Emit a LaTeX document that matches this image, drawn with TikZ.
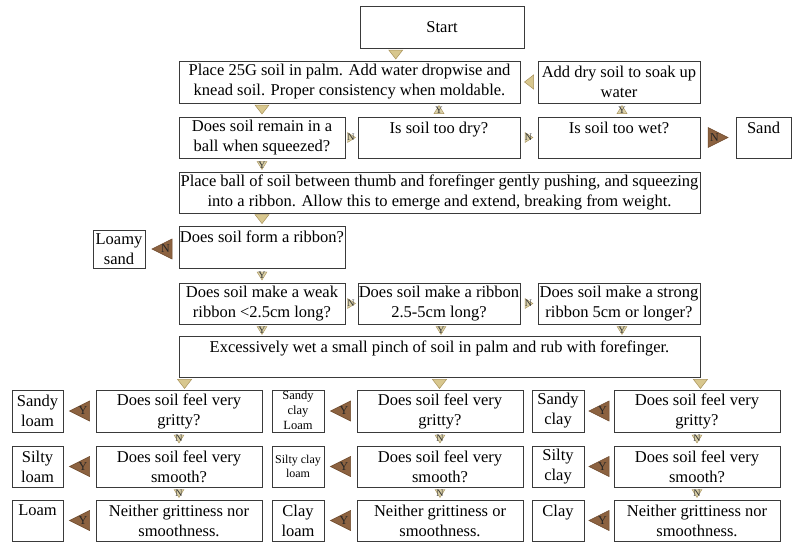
\documentclass[tikz,border=0pt]{standalone}
\usepackage{fontspec}
\setmainfont{Liberation Serif}
\usetikzlibrary{calc}
\definecolor{tanf}{HTML}{D8C78E}
\definecolor{tane}{HTML}{A8925A}
\definecolor{brownf}{HTML}{8C6240}
\definecolor{browne}{HTML}{6E4A2C}
\definecolor{boxline}{HTML}{3A3A3A}
\definecolor{mkf}{HTML}{D9CFA6}
\begin{document}
\begin{tikzpicture}[x=1pt,y=-1pt,
  box/.style={draw=boxline, line width=0.9pt, inner sep=0pt, align=center,
    font=\fontsize{16.5}{20}\selectfont},
  sbox/.style={box, font=\fontsize{12}{14.5}\selectfont},
  tand/.pic={\filldraw[fill=tanf,draw=tane,line width=0.5pt] (-7,-4.5)--(7,-4.5)--(0,4.5)--cycle;},
  tanl/.pic={\filldraw[fill=tanf,draw=tane,line width=0.5pt] (4.5,-7)--(4.5,7)--(-4.5,0)--cycle;},
  mkd/.pic={\filldraw[fill=mkf,draw=tane,line width=0.4pt] (-5,-4)--(5,-4)--(0,4)--cycle;
    \node[inner sep=0pt,font=\fontsize{10}{10}\selectfont,text=black!80] (-l) at (0,-0.5) {#1};},
  mku/.pic={\filldraw[fill=mkf,draw=tane,line width=0.4pt] (-5,4)--(5,4)--(0,-4)--cycle;
    \node[inner sep=0pt,font=\fontsize{10}{10}\selectfont,text=black!80] (-l) at (0,0.5) {#1};},
  mkr/.pic={\filldraw[fill=mkf,draw=tane,line width=0.4pt] (-4,-5)--(-4,5)--(4,0)--cycle;
    \node[inner sep=0pt,font=\fontsize{10}{10}\selectfont,text=black!80] (-l) at (-0.5,0) {#1};},
  brl/.pic={\filldraw[fill=brownf,draw=browne,line width=0.5pt] (10,-10)--(10,10)--(-10,0)--cycle;
    \node[inner sep=0pt,font=\fontsize{12}{12}\selectfont,text=black!85] (-l) at (3.5,0) {#1};},
  brr/.pic={\filldraw[fill=brownf,draw=browne,line width=0.5pt] (-10,-10)--(-10,10)--(10,0)--cycle;
    \node[inner sep=0pt,font=\fontsize{12}{12}\selectfont,text=black!85] (-l) at (-3.5,0) {#1};},
]
\useasboundingbox (0,0) rectangle (793,544);

% top part
\node[box, minimum width=164, minimum height=42] (start) at (442,27) {Start};
\node[box, minimum width=341, minimum height=42] (place) at (349.5,82)
  {Place 25G soil in palm. Add water dropwise and\\knead soil. Proper consistency when moldable.};
\node[box, minimum width=162, minimum height=42] (adddry) at (619,82)
  {Add dry soil to soak up\\water};
\node[box, minimum width=166, minimum height=41] (ball) at (262,137.5)
  {Does soil remain in a\\ball when squeezed?};
\node[box, minimum width=162, minimum height=41] (dry) at (439,137.5)
  {Is soil too dry?\\\mbox{}};
\node[box, minimum width=162, minimum height=41] (wet) at (619,137.5)
  {Is soil too wet?\\\mbox{}};
\node[box, minimum width=55, minimum height=41] (sand) at (763.5,137.5)
  {Sand\\\mbox{}};
\node[box, minimum width=521, minimum height=41] (thumb) at (439.5,192.5)
  {Place ball of soil between thumb and forefinger gently pushing, and squeezing\\into a ribbon. Allow this to emerge and extend, breaking from weight.};
\node[box, minimum width=166, minimum height=42] (ribbon) at (262,247)
  {Does soil form a ribbon?\\\mbox{}};
\node[box, minimum width=52, minimum height=38] (loamysand) at (119,249)
  {Loamy\\sand};
\node[box, minimum width=166, minimum height=41] (weak) at (262,303.5)
  {Does soil make a weak\\ribbon <2.5cm long?};
\node[box, minimum width=162, minimum height=41] (mid) at (439,303.5)
  {Does soil make a ribbon\\2.5-5cm long?};
\node[box, minimum width=162, minimum height=41] (strong) at (619,303.5)
  {Does soil make a strong\\ribbon 5cm or longer?};
\node[box, minimum width=521, minimum height=41] (wetb) at (439.5,356.5)
  {Excessively wet a small pinch of soil in palm and rub with forefinger.\\\mbox{}};

% bottom grid
\node[box, minimum width=51, minimum height=42] (r11) at (37.5,411) {Sandy\\loam};
\node[box, minimum width=51, minimum height=41] (r12) at (37.5,466.5) {Silty\\loam};
\node[box, minimum width=51, minimum height=41] (r13) at (37.5,520.5) {Loam\\\mbox{}};
\node[box, minimum width=166, minimum height=42] (q11) at (179,411) {Does soil feel very\\gritty?};
\node[box, minimum width=166, minimum height=41] (q12) at (179,466.5) {Does soil feel very\\smooth?};
\node[box, minimum width=166, minimum height=41] (q13) at (179,520.5) {Neither grittiness nor\\smoothness.};

\node[sbox, minimum width=52, minimum height=42] (r21) at (298,411)
  {\smash{\raisebox{-3pt}{\fontsize{12.5}{16}\selectfont\begin{tabular}{@{}c@{}}Sandy\\[-1pt]clay\\[-1pt]Loam\end{tabular}}}};
\node[sbox, minimum width=52, minimum height=41] (r22) at (298,466.5) {Silty clay\\loam};
\node[box, minimum width=52, minimum height=41] (r23) at (298,520.5) {Clay\\loam};
\node[box, minimum width=166, minimum height=42] (q21) at (440,411) {Does soil feel very\\gritty?};
\node[box, minimum width=166, minimum height=41] (q22) at (440,466.5) {Does soil feel very\\smooth?};
\node[box, minimum width=166, minimum height=41] (q23) at (440,520.5) {Neither grittiness or\\smoothness.};

\node[box, minimum width=52, minimum height=42] (r31) at (558,411) {Sandy\\clay};
\node[box, minimum width=52, minimum height=41] (r32) at (558,466.5) {Silty\\clay};
\node[box, minimum width=52, minimum height=41] (r33) at (558,520.5) {Clay\\\mbox{}};
\node[box, minimum width=166, minimum height=42] (q31) at (697,411) {Does soil feel very\\gritty?};
\node[box, minimum width=166, minimum height=41] (q32) at (697,466.5) {Does soil feel very\\smooth?};
\node[box, minimum width=166, minimum height=41] (q33) at (697,520.5) {Neither grittiness nor\\smoothness.};

% connectors (triangular markers)
\pic (a1) at ($(start.south)!0.5!(place.north)$) {tand};
\pic (a2) at ($(adddry.west)!0.5!(place.east)$) {tanl};
\pic (a3) at ($(ball.north)+(0,-7)$) {tand};
\pic (a4) at ($(dry.north)+(0,-7)$) {mku=Y};
\pic (a5) at ($(wet.north)+(3,-7)$) {mku=Y};
\pic (a6) at ($(ball.east)!0.5!(dry.west)$) {mkr=N};
\pic (a7) at ($(dry.east)!0.5!(wet.west)$) {mkr=N};
\pic (a8) at ($(wet.east)!0.5!(sand.west)$) {brr=N};
\pic (a9) at ($(ball.south)+(0,7)$) {mkd=Y};
\pic (a10) at ($(ribbon.north)+(0,-6.5)$) {tand};
\pic (a11) at ($(loamysand.east)!0.5!(ribbon.west |- loamysand.east)$) {brl=N};
\pic (a12) at ($(ribbon.south)+(0,7.5)$) {mkd=Y};
\pic (a13) at ($(weak.east)!0.5!(mid.west)$) {mkr=N};
\pic (a14) at ($(mid.east)!0.5!(strong.west)$) {mkr=N};
\pic (a15) at ($(weak.south)+(0,6)$) {mkd=Y};
\pic (a16) at ($(mid.south)+(2,6)$) {mkd=Y};
\pic (a17) at ($(strong.south)+(3,6)$) {mkd=Y};
\pic (a18) at ($(wetb.south west)+(6,6.5)$) {tand};
\pic (a19) at ($(wetb.south)+(0,6.5)$) {tand};
\pic (a20) at ($(wetb.south east)+(0,6.5)$) {tand};

\foreach \c in {1,2,3}{
  \foreach \r in {1,2,3}{
    \pic (y\c\r) at ($(r\c\r.east)!0.5!(q\c\r.west)$) {brl=Y};
  }
  \pic (n\c1) at ($(q\c1.south)!0.5!(q\c2.north)$) {mkd=N};
  \pic (n\c2) at ($(q\c2.south)!0.5!(q\c3.north)$) {mkd=N};
}
\end{tikzpicture}
\end{document}
